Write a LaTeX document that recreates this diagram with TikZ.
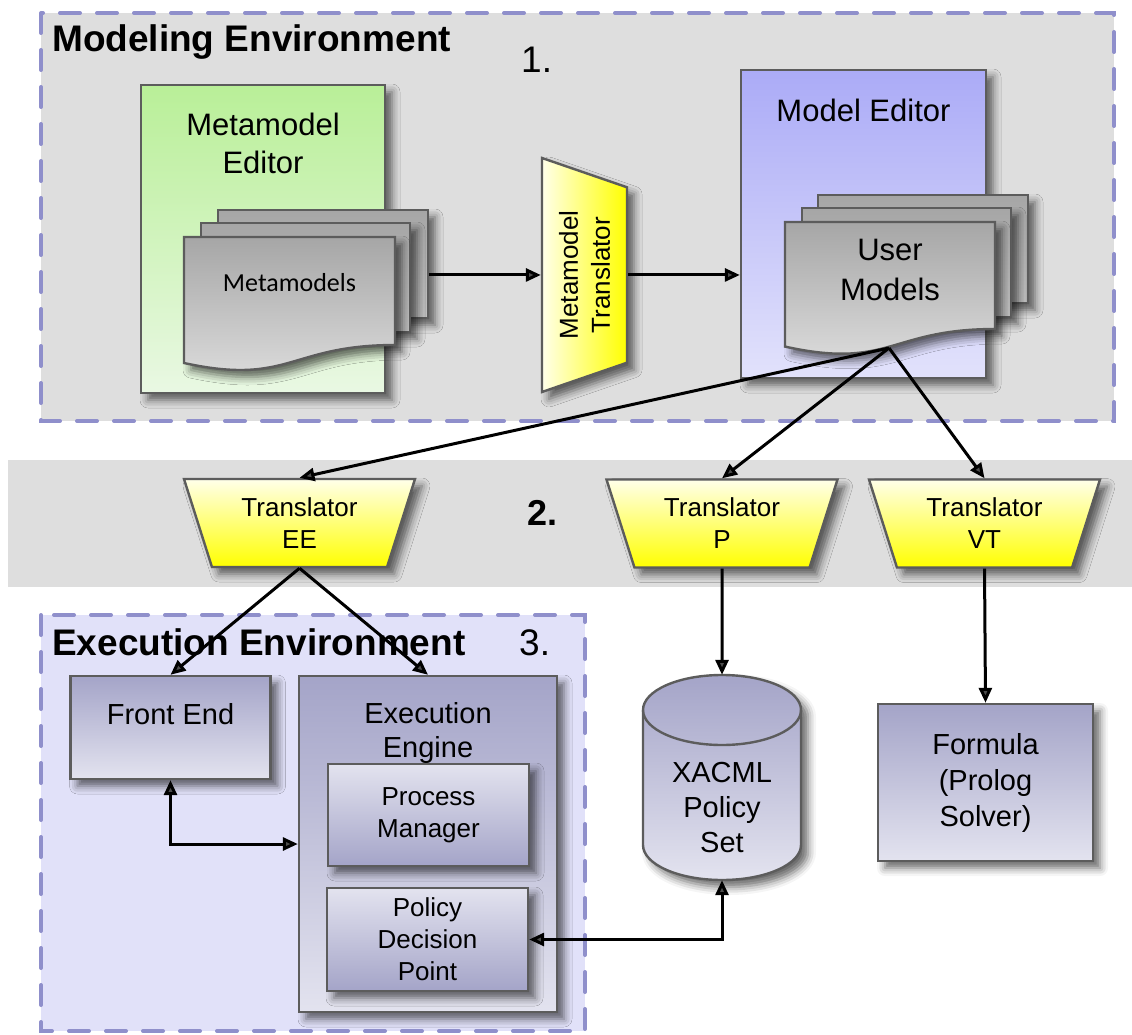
\documentclass[tikz,border=0pt]{standalone}
\usepackage{fontspec}
\setmainfont{Liberation Sans}
\newfontfamily\calfont{Carlito}
\usetikzlibrary{shapes.geometric,arrows.meta,shadows.blur}

\definecolor{dashc}{RGB}{143,143,203}
\definecolor{envgray}{RGB}{222,222,222}
\definecolor{execbg}{RGB}{225,225,249}
\definecolor{edge}{RGB}{92,92,92}
\definecolor{grnT}{RGB}{185,239,152}
\definecolor{grnB}{RGB}{233,248,227}
\definecolor{bluT}{RGB}{171,171,247}
\definecolor{bluB}{RGB}{226,226,251}
\definecolor{docT}{RGB}{166,166,166}
\definecolor{docB}{RGB}{222,222,222}
\definecolor{sheetB}{RGB}{192,192,192}
\definecolor{yelT}{RGB}{255,255,234}
\definecolor{yelB}{RGB}{255,255,0}
\definecolor{purD}{RGB}{164,164,200}
\definecolor{purL}{RGB}{227,227,239}

\newcommand\fsz[2]{\fontsize{#1pt}{#2pt}\selectfont}

\begin{document}
\begin{tikzpicture}[x=1pt,y=-1pt,
  envframe/.style={draw=dashc,line width=4pt,dash pattern=on 20pt off 17pt,line cap=round},
  soft/.style={blur shadow={shadow xshift=7pt,shadow yshift=-7pt,shadow blur radius=8pt,shadow opacity=60}},
  outline/.style={draw=edge,line width=2.4pt},
  plainbox/.style={rectangle,inner sep=0pt,outline,soft},
  greenbox/.style={plainbox,top color=grnT,bottom color=grnB},
  bluebox/.style={plainbox,top color=bluT,bottom color=bluB},
  sheetbox/.style={plainbox,top color=docT,bottom color=sheetB},
  darktop/.style={plainbox,top color=purD,bottom color=purL},
  lighttop/.style={plainbox,top color=purL,bottom color=purD},
  docface/.style={outline,top color=docT,bottom color=docB,soft},
  trapbase/.style={trapezium,trapezium angle=63,trapezium stretches body,
    shape border rotate=180,minimum width=231pt,minimum height=88pt,
    inner sep=2pt,outline,soft,align=center,font=\fsz{26}{32}},
  transl/.style={trapbase,top color=yelT,bottom color=yelB},
  conn/.style={line width=3pt,-{Triangle[length=15pt,width=13pt]}},
  conntwo/.style={line width=3pt,{Triangle[length=15pt,width=13pt]}-{Triangle[length=15pt,width=13pt]}},
  lbl/.style={inner sep=0pt,align=center},
  title/.style={inner sep=0pt,anchor=base west,font=\fsz{37}{44}\bfseries},
  step number/.style={inner sep=0pt,anchor=base west,font=\fsz{37}{44}},
]
\useasboundingbox (0,0) rectangle (1132,1035);

% ---------- background regions ----------
\fill[envgray] (41,13) rectangle (1114,421);
\draw[envframe] (41,13) rectangle (1114,421);
\fill[envgray] (8,460) rectangle (1132,587);
\fill[execbg] (41,615) rectangle (585,1031);
\draw[envframe] (41,615) rectangle (585,1031);

% ---------- section titles ----------
\node[title] (metitle) at (52,52) {Modeling Environment};
\node[step number] (one) at (521,73) {1.};
\node[inner sep=0pt,anchor=base west,font=\fsz{36}{44}\bfseries] (two) at (527,525) {2.};
\node[title] (eetitle) at (52,655) {Execution Environment};
\node[step number] (three) at (519,655) {3.};

% ---------- modeling environment ----------
\node[greenbox,minimum width=244pt,minimum height=308pt] (mmed) at (263,239) {};
\node[lbl,font=\fsz{31}{38}] (mmedt) at (263,143) {Metamodel\\Editor};

\node[sheetbox,minimum width=210pt,minimum height=108pt] (mmback) at (323,264) {};
\node[sheetbox,minimum width=209pt,minimum height=109pt] (mmmid) at (305.5,277.5) {};
\path[docface] (184,237) -- (395,237) -- (395,345)
  .. controls (289.5,345) and (289.5,386) .. (184,363) -- cycle;
\node[lbl,anchor=base,font=\calfont\fsz{26}{30}] (mmdoc) at (289.5,291) {Metamodels};

\node[trapbase,left color=yelT,right color=yelB,rotate=90,trapezium angle=62,
  minimum width=234pt,minimum height=85pt] (mtr) at (584.5,275) {Metamodel\\Translator};

\node[bluebox,minimum width=245pt,minimum height=308pt] (me) at (863.5,224) {};
\node[lbl,anchor=base,font=\fsz{31}{38}] (met) at (863.5,122) {Model Editor};

\node[sheetbox,minimum width=210pt,minimum height=108pt] (umback) at (923,249) {};
\node[sheetbox,minimum width=209pt,minimum height=109pt] (ummid) at (906.5,262.5) {};
\path[docface] (785,222) -- (995,222) -- (995,329)
  .. controls (890,329) and (890,369.7) .. (785,346.6) -- cycle;
\node[lbl,font=\fsz{31}{40}] (umdoc) at (890,270) {User\\Models};
\coordinate (umtip) at (889,348);

% ---------- translators ----------
\node[transl] (tee) at (299.5,523) {Translator\\EE};
\node[transl] (tp) at (722,523.5) {Translator\\P};
\node[transl] (tvt) at (984.5,523.5) {Translator\\VT};

% ---------- execution environment ----------
\node[darktop,minimum width=200pt,minimum height=103pt] (fe) at (170.5,727.5) {};
\node[lbl,anchor=base,font=\fsz{29}{34}] (fet) at (170.5,724) {Front End};

\node[darktop,minimum width=258pt,minimum height=336pt] (ee) at (428,844) {};
\node[lbl,font=\fsz{29}{34}] (eet) at (428,733) {Execution\\Engine};

\node[lighttop,minimum width=201pt,minimum height=102pt,align=center,font=\fsz{26}{32}]
  (pm) at (428.5,815) {Process\\Manager};
\node[lighttop,minimum width=201pt,minimum height=103pt,align=center,font=\fsz{26}{32}]
  (pdp) at (427.5,939.5) {Policy\\Decision\\Point};

% ---------- policy store and solver ----------
\node[rectangle,minimum width=158pt,minimum height=205pt,inner sep=0pt] (xacml) at (722,777.5) {};
\path[outline,top color=purD,bottom color=purL,soft]
  (643,710) -- (643,845) arc[x radius=79,y radius=35,start angle=180,end angle=0]
  -- (801,710) arc[x radius=79,y radius=35,start angle=0,end angle=-180] -- cycle;
\draw[edge,line width=2.4pt] (643,710) arc[x radius=79,y radius=35,start angle=180,end angle=0];
\node[lbl,font=\fsz{29}{35}] (xacmlt) at (722,808) {XACML\\Policy\\Set};

\node[darktop,minimum width=215pt,minimum height=157pt,align=center,font=\fsz{29}{36}]
  (formula) at (985.5,782.5) {Formula\\(Prolog\\Solver)};

% ---------- connectors ----------
\draw[conn] (mmback.east |- mtr.north) -- (mtr.north);
\draw[conn] (mtr.south) -- (me.west |- mtr.south);
\draw[conn] (umtip) -- (tee.north);
\draw[conn] (umtip) -- (tp.north);
\draw[conn] (umtip) -- (tvt.north);
\draw[conn] (tee.south) -- (fe.north);
\draw[conn] (tee.south) -- (ee.north);
\draw[conntwo] (fe.south) |- (ee.west);
\draw[conn] (tp.south) -- (xacml.north);
\draw[conn] (tvt.south) -- (formula.north);
\draw[conntwo] (pdp.east) -| (xacml.south);
\end{tikzpicture}
\end{document}
